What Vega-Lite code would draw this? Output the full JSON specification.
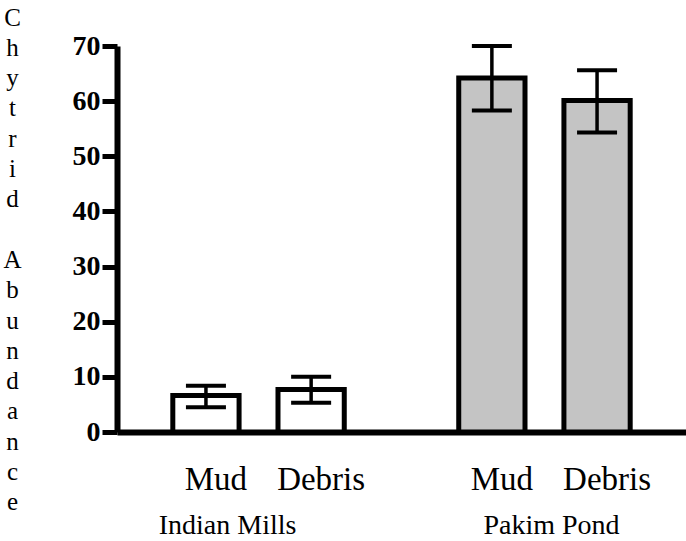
{
  "$schema": "https://vega.github.io/schema/vega-lite/v6.json",
  "width": 569,
  "height": 386,
  "autosize": "none",
  "padding": {"left": 117, "top": 46, "right": 0, "bottom": 109},
  "background": "white",
  "config": {"view": {"stroke": null}, "font": "Liberation Serif"},
  "data": {"values": [
    {"site": "Indian Mills", "type": "Mud", "mean": 6.6, "lo": 4.5, "hi": 8.4},
    {"site": "Indian Mills", "type": "Debris", "mean": 7.7, "lo": 5.3, "hi": 10.0},
    {"site": "Pakim Pond", "type": "Mud", "mean": 64.2, "lo": 58.3, "hi": 70.0},
    {"site": "Pakim Pond", "type": "Debris", "mean": 60.1, "lo": 54.3, "hi": 65.6}
  ]},
  "encoding": {
    "x": {"field": "site", "type": "nominal", "sort": ["Indian Mills", "Pakim Pond"],
      "scale": {"paddingInner": 0.29, "paddingOuter": 0.14},
      "axis": {"title": null, "labelAngle": 0, "ticks": false, "domainWidth": 6, "domainColor": "black",
        "labelFont": "Liberation Serif", "labelFontSize": 28, "labelColor": "black", "labelPadding": 79,
        "labelOffset": {"expr": "datum.value === 'Indian Mills' ? -31 : 7"}}},
    "xOffset": {"field": "type", "type": "nominal", "sort": ["Mud", "Debris"],
      "scale": {"paddingInner": 0.37, "paddingOuter": 0.15}}
  },
  "layer": [
    {
      "mark": {"type": "bar", "stroke": "black", "strokeWidth": 5},
      "encoding": {
        "y": {"field": "mean", "type": "quantitative", "scale": {"domain": [0, 70], "nice": false},
          "axis": {"values": [0, 10, 20, 30, 40, 50, 60, 70], "grid": false, "domainWidth": 6, "domainColor": "black",
            "tickWidth": 5, "tickSize": 15, "tickColor": "black",
            "labelFont": "Liberation Serif", "labelFontSize": 28, "labelFontWeight": "bold", "labelColor": "black", "labelPadding": 2,
            "title": ["C", "h", "y", "t", "r", "i", "d", "\u200b", "A", "b", "u", "n", "d", "a", "n", "c", "e"],
            "titleAngle": 0, "titleFont": "Liberation Serif", "titleFontSize": 25, "titleFontWeight": "normal",
            "titleLineHeight": 30.3, "titleAlign": "center", "titleBaseline": "top", "titleX": -105, "titleY": -41, "titleColor": "black"}},
        "fill": {"field": "site", "type": "nominal", "scale": {"domain": ["Indian Mills", "Pakim Pond"], "range": ["white", "#c4c4c4"]}, "legend": null}
      }
    },
    {
      "mark": {"type": "rule", "strokeWidth": 3.5, "color": "black"},
      "encoding": {"y": {"field": "lo", "type": "quantitative"}, "y2": {"field": "hi"}}
    },
    {
      "mark": {"type": "tick", "size": 40, "thickness": 4, "color": "black", "opacity": 1},
      "encoding": {"y": {"field": "lo", "type": "quantitative"}}
    },
    {
      "mark": {"type": "tick", "size": 40, "thickness": 4, "color": "black", "opacity": 1},
      "encoding": {"y": {"field": "hi", "type": "quantitative"}}
    },
    {
      "mark": {"type": "text", "font": "Liberation Serif", "fontSize": 33, "color": "black", "baseline": "middle", "dy": 48, "dx": 10},
      "encoding": {"y": {"datum": 0, "type": "quantitative"}, "text": {"field": "type"}}
    }
  ]
}
